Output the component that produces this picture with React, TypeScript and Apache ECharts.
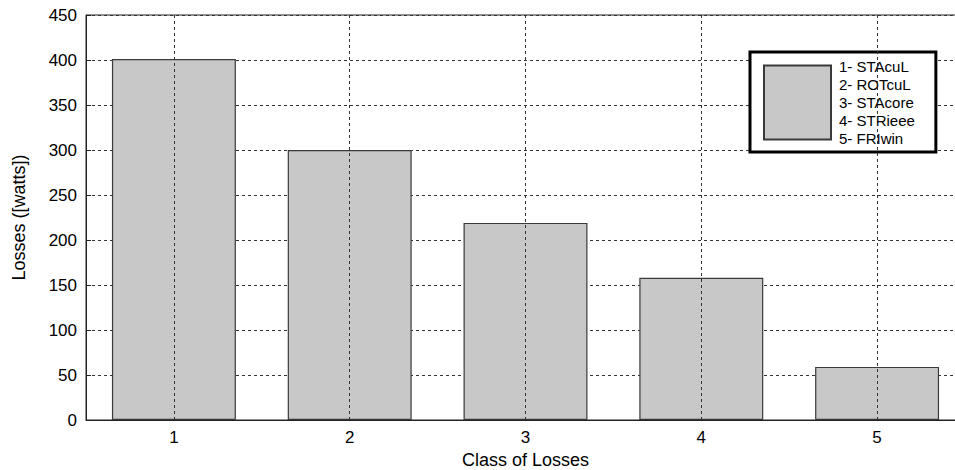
import React, { useEffect, useRef } from "react";
import * as echarts from "echarts";

const categories = ["1", "2", "3", "4", "5"];
const lossValues = [401, 300, 219, 158, 59];
const legendLabels = ["1- STAcuL", "2- ROTcuL", "3- STAcore", "4- STRieee", "5- FRIwin"];
const yTickMin = 0;
const yTickMax = 450;
const yTickStep = 50;

const FONT = "'Liberation Sans', Arial, sans-serif";

export default function App() {
  const ref = useRef<HTMLDivElement>(null);
  useEffect(() => {
    if (!ref.current) return;
    const chart = echarts.init(ref.current, null, { renderer: "svg", width: 955, height: 470 });
    const seriesName = legendLabels.join("\n");
    chart.setOption({
      animation: false,
      backgroundColor: "#ffffff",
      grid: {
        left: 86,
        right: -10,
        top: 15,
        bottom: 50,
        outerBoundsMode: "none",
        containLabel: false,
        show: true,
        borderColor: "#222",
        borderWidth: 1,
        backgroundColor: "transparent",
      },
      legend: {
        show: true,
        data: [seriesName],
        left: 750,
        top: 52,
        orient: "vertical",
        padding: [5, 21, 4, 13],
        borderColor: "#000",
        borderWidth: 3,
        backgroundColor: "#fff",
        itemWidth: 67,
        itemHeight: 74,
        icon: "rect",
        selectedMode: false,
        textStyle: {
          fontFamily: FONT,
          fontSize: 15,
          lineHeight: 18.2,
          color: "#000",
          padding: [0, 0, 0, 3],
        },
      },
      xAxis: {
        type: "category",
        data: categories,
        boundaryGap: true,
        name: "Class of Losses",
        nameLocation: "middle",
        nameGap: 29,
        nameTextStyle: { fontFamily: FONT, fontSize: 18, color: "#000" },
        axisLine: { show: true, lineStyle: { color: "#222", width: 1 } },
        axisTick: { show: false },
        axisLabel: { fontFamily: FONT, fontSize: 17, color: "#000", margin: 9 },
        splitLine: { show: false },
      },
      yAxis: {
        type: "value",
        min: yTickMin,
        max: yTickMax,
        interval: yTickStep,
        name: "Losses ([watts])",
        nameLocation: "middle",
        nameGap: 58,
        nameTextStyle: { fontFamily: FONT, fontSize: 18, color: "#000" },
        axisLine: { show: true, lineStyle: { color: "#222", width: 1 } },
        axisTick: { show: true, inside: true, length: 5, lineStyle: { color: "#222" } },
        axisLabel: { fontFamily: FONT, fontSize: 17, color: "#000", margin: 9 },
        splitLine: {
          show: true,
          lineStyle: { color: "#333", type: [3, 3], width: 1 },
        },
      },
      series: [
        {
          name: "gridlines",
          type: "line",
          data: categories.map(() => null),
          z: 1,
          silent: true,
          showSymbol: false,
          markLine: {
            silent: true,
            symbol: ["none", "none"],
            label: { show: false },
            lineStyle: { color: "#333", type: [3, 3], width: 1 },
            data: categories.map((c) => ({ xAxis: c })),
          },
        },
        {
          name: seriesName,
          type: "bar",
          data: lossValues,
          barWidth: "70.5%",
          z: 3,
          itemStyle: {
            color: "#c8c8c8",
            borderColor: "#3a3a3a",
            borderWidth: 1.2,
          },
        },
      ],
    });
    return () => chart.dispose();
  }, []);
  return (
    <div
      ref={ref}
      style={{ position: "fixed", left: 0, top: 0, width: 955, height: 470 }}
    />
  );
}
